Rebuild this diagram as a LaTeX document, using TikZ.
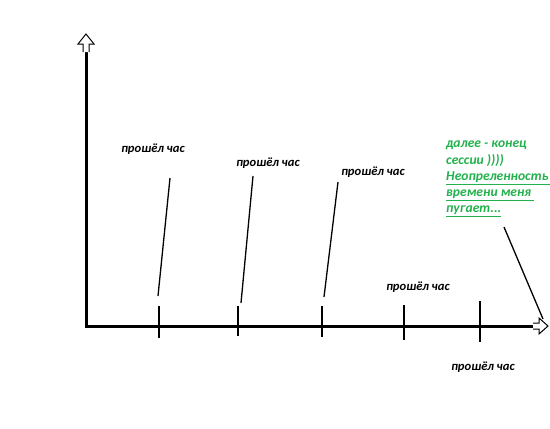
\documentclass[tikz,border=0pt]{standalone}
\usepackage{fontspec}
\setmainfont{Carlito}
\usetikzlibrary{positioning}
\definecolor{paintgreen}{RGB}{34,177,76}

\begin{document}
\begin{tikzpicture}[x=1pt,y=-1pt,
    axis/.style={line width=3pt},
    tick/.style={line width=2.6pt},
    pointer/.style={line width=1.3pt},
    hour/.style={font=\bfseries\itshape\fontsize{12.6}{14}\selectfont, inner sep=0pt},
    head/.style={draw=black, line width=1pt, fill=white, line join=miter}]
        \useasboundingbox (0,0) rectangle (550,429);

        %axes
        \coordinate (o) at (86,326);
        \coordinate (ytop) at (86,52);
        \coordinate (xend) at (534,326);
        \draw[axis] (ytop) -- (o) -- (xend);
        %hollow arrow heads
        \draw[head] (83,52) -- (83,44) -- (78,44) -- (86,34) -- (94,44) -- (89,44) -- (89,52);
        \draw[head] (533,323) -- (539,323) -- (539,318) -- (548,326) -- (539,334) -- (539,329) -- (533,329);

        %ticks
        \coordinate (t1a) at (159,306); \coordinate (t1b) at (159,338);
        \coordinate (t2a) at (238,306); \coordinate (t2b) at (238,336);
        \coordinate (t3a) at (322,306); \coordinate (t3b) at (322,337);
        \coordinate (t4a) at (404,305); \coordinate (t4b) at (404,340);
        \coordinate (t5a) at (480,301); \coordinate (t5b) at (480,342);
        \draw[tick] (t1a) -- (t1b);
        \draw[tick] (t2a) -- (t2b);
        \draw[tick] (t3a) -- (t3b);
        \draw[tick] (t4a) -- (t4b);
        \draw[tick] (t5a) -- (t5b);

        %labels
        \node[hour] (h1) at (153,149) {прошёл час};
        \node[hour] (h2) at (268,163) {прошёл час};
        \node[hour] (h3) at (373,172) {прошёл час};
        \node[hour] (h4) at (418,287) {прошёл час};
        \node[hour] (h5) at (483,367) {прошёл час};

        %slanted lines
        \coordinate (s1a) at (170,178); \coordinate (s1b) at (158,296);
        \coordinate (s2a) at (253,176); \coordinate (s2b) at (241,303);
        \coordinate (s3a) at (338,182); \coordinate (s3b) at (324,297);
        \draw[pointer] (s1a) -- (s1b);
        \draw[pointer] (s2a) -- (s2b);
        \draw[pointer] (s3a) -- (s3b);

        %green note
        \node[anchor=north west, align=left, text=paintgreen, inner sep=0pt,
            font=\bfseries\itshape\fontsize{13.6}{16.2}\selectfont] (note) at (446,141)
            {далее - конец\\сессии ))))\\\underline{Неопреленность }\\\underline{времени меня }\\\underline{пугает...}};
        \coordinate (pstart) at (504,227);
        \coordinate (pend) at (543,319);
        \draw[pointer] (pstart) -- (pend);
    \end{tikzpicture}
\end{document}
